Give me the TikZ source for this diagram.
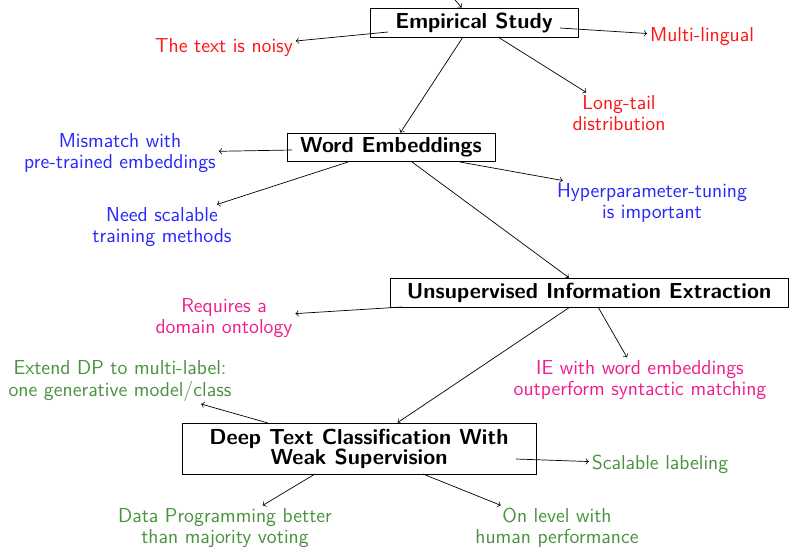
\documentclass[tikz,border=0pt]{standalone}
\usepackage{xcolor}
\renewcommand{\familydefault}{\sfdefault}
\definecolor{cred}{RGB}{255,20,20}
\definecolor{cblue}{RGB}{40,40,250}
\definecolor{cpink}{RGB}{238,30,140}
\definecolor{cgreen}{RGB}{75,145,65}
\tikzset{
  mainbox/.style={draw, font=\fontsize{12.4}{11.4}\selectfont\bfseries\sffamily, align=center, inner sep=0pt},
  note/.style={font=\fontsize{11.5}{12}\selectfont\sffamily, align=center, inner sep=1.5pt},
  conn/.style={->},
}
\begin{document}
\begin{tikzpicture}[x=0.57pt, y=-0.57pt]
\useasboundingbox (0,0) rectangle (794,548);
% main boxes
\node[mainbox, minimum width=208*0.57pt, minimum height=29*0.57pt] (es) at (474,22.5) {Empirical Study};
\node[mainbox, minimum width=208*0.57pt, minimum height=28*0.57pt] (we) at (391,147) {Word Embeddings};
\node[mainbox, minimum width=398*0.57pt, minimum height=29*0.57pt] (ui) at (589,292.5) {Unsupervised Information Extraction};
\node[mainbox, minimum width=354*0.57pt, minimum height=51*0.57pt] (dt) at (359,448.5) {Deep Text Classification With\\Weak Supervision};
% notes
\node[note, text=cred] (noisy) at (224,48) {The text is noisy};
\node[note, text=cred] (multi) at (702,37) {Multi-lingual};
\node[note, text=cred] (long) at (619,113) {Long-tail\\distribution};
\node[note, text=cblue] (mis) at (120,153) {Mismatch with\\pre-trained embeddings};
\node[note, text=cblue] (need) at (162,227) {Need scalable\\training methods};
\node[note, text=cblue] (hyp) at (652,203) {Hyperparameter-tuning\\is important};
\node[note, text=cpink] (req) at (224,318) {Requires a\\domain ontology};
\node[note, text=cpink] (ie) at (640,380) {IE with word embeddings\\outperform syntactic matching};
\node[note, text=cgreen] (ext) at (120,381) {Extend DP to multi-label:\\one generative model/class};
\node[note, text=cgreen] (scal) at (660,464) {Scalable labeling};
\node[note, text=cgreen] (dp) at (225,528) {Data Programming better\\than majority voting};
\node[note, text=cgreen] (hum) at (557,528) {On level with\\human performance};
% start points
\coordinate (top) at (430,-30);
\coordinate (es1) at (388,32);
\coordinate (es2) at (560,28);
\coordinate (es3) at (498,37);
\coordinate (es4) at (463,37);
\coordinate (we1) at (292,150);
\coordinate (we2) at (348,162);
\coordinate (we3) at (460,162);
\coordinate (we4) at (412,162);
\coordinate (ui1) at (402,307);
\coordinate (ui2) at (598,307);
\coordinate (ui3) at (570,307);
\coordinate (dt1) at (268,423);
\coordinate (dt2) at (516,459);
\coordinate (dt3) at (315,474);
\coordinate (dt4) at (423,474);
% connectors
\draw[conn] (top) -- (es);
\draw[conn] (es1) -- (noisy);
\draw[conn] (es2) -- (multi);
\draw[conn] (es3) -- (long);
\draw[conn] (es4) -- (we);
\draw[conn] (we1) -- (mis);
\draw[conn] (we2) -- ([xshift=-10pt]need.north east);
\draw[conn] (we3) -- ([xshift=5pt]hyp.north west);
\draw[conn] (we4) -- (ui);
\draw[conn] (ui1) -- (req);
\draw[conn] (ui2) -- (ie);
\draw[conn] (ui3) -- (dt);
\draw[conn] (dt1) -- (ext);
\draw[conn] (dt2) -- (scal);
\draw[conn] (dt3) -- (dp);
\draw[conn] (dt4) -- (hum);
\end{tikzpicture}
\end{document}
